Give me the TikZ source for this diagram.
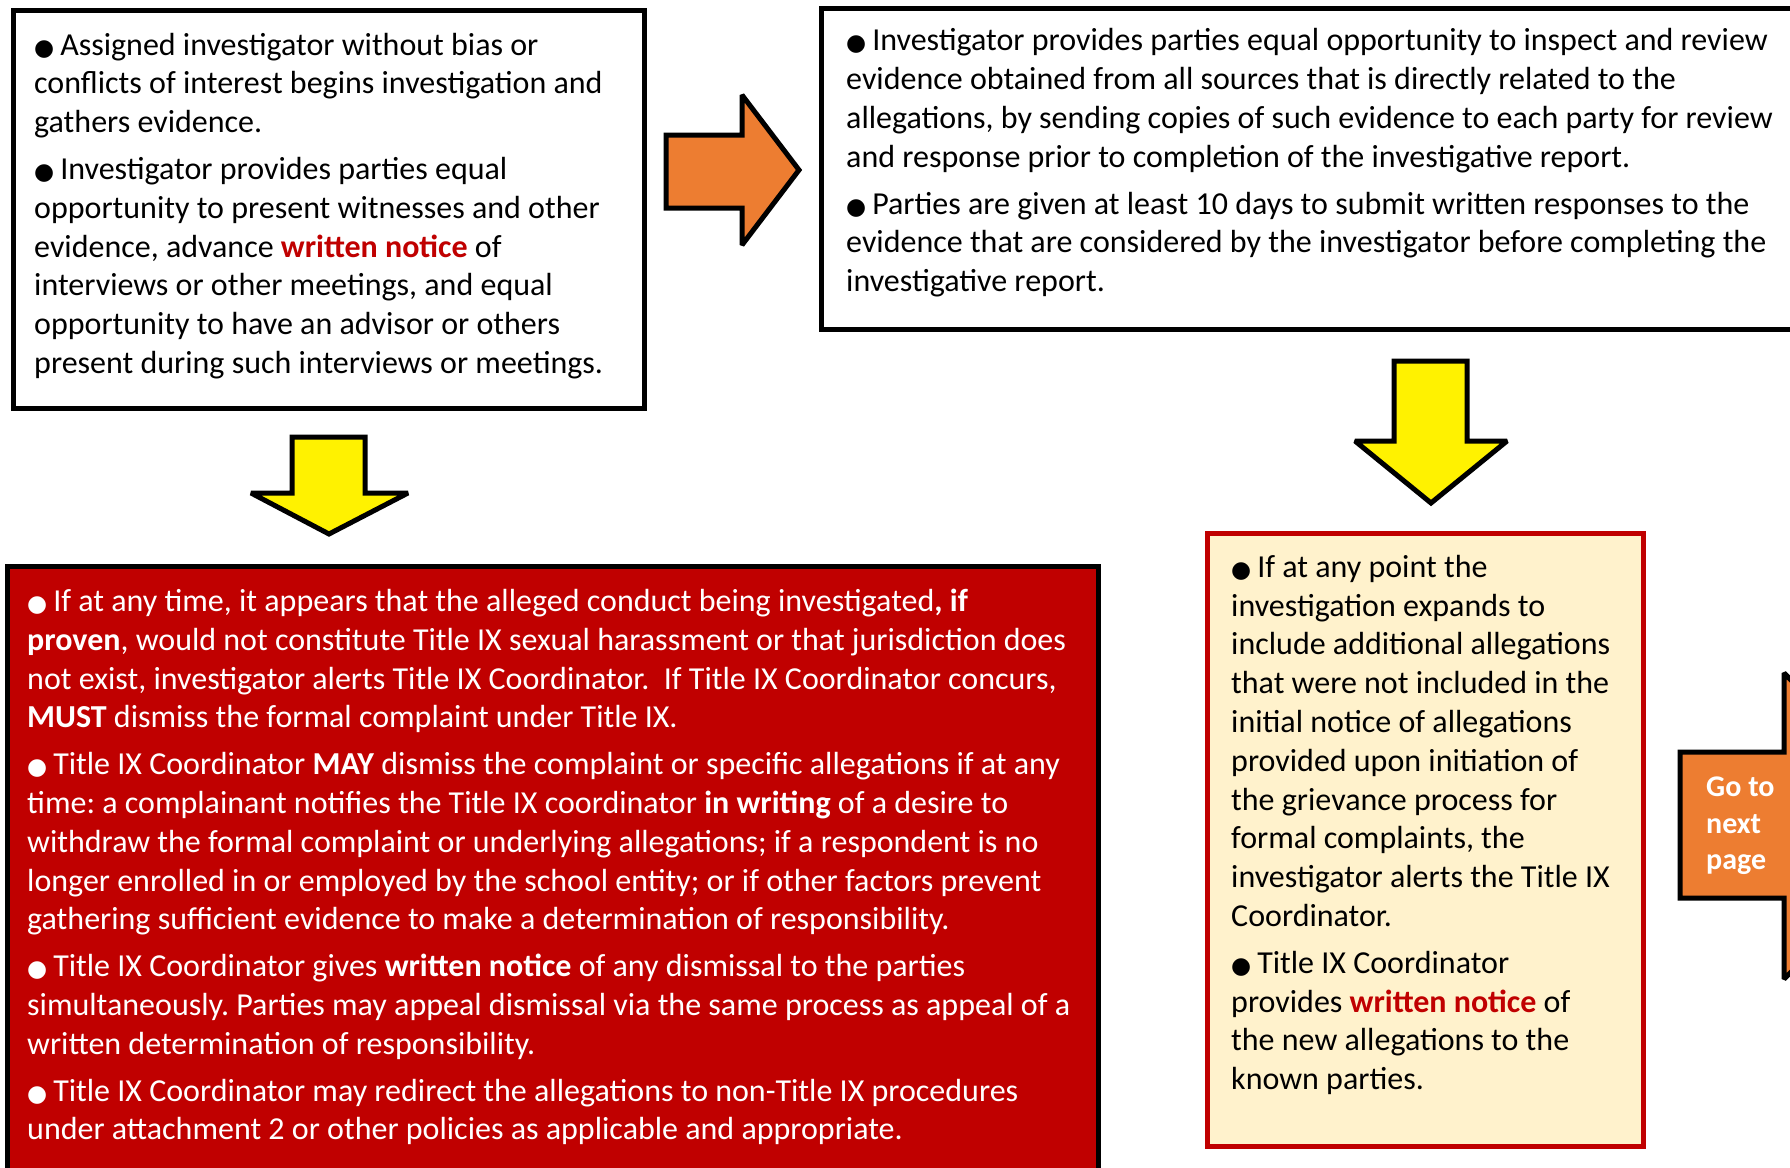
\documentclass[tikz,border=0pt]{standalone}
\usepackage{fontspec}
\setmainfont{Carlito}
\newfontfamily\dotfont{DejaVu Sans}
\definecolor{deepred}{HTML}{C00000}
\definecolor{flaporange}{HTML}{ED7D31}
\definecolor{creamfill}{HTML}{FFF2CC}
\newcommand{\bul}{{\dotfont\fontsize{23}{23}\selectfont ●}\kern6pt}
\newcommand{\rednote}{\textcolor{deepred}{\textbf{written notice}}}
\frenchspacing
\begin{document}
\begin{tikzpicture}[x=1pt,y=-1pt,line join=miter,miter limit=1.6,
    frame/.style={draw=black,line width=5pt,anchor=north west,inner sep=0pt},
    copy/.style={anchor=west,inner sep=0pt,align=left,font=\fontsize{32}{38.8}\selectfont},
    blockarrow/.style={draw=black,line width=5pt}]
    \useasboundingbox (0,0) rectangle (1790,1167);
    \clip (0,0) rectangle (1790,1167);
    % boxes
    \node[frame,fill=white,minimum width=631,minimum height=398] (boxA) at (11,8) {};
    \node[frame,fill=white,minimum width=990,minimum height=321] (boxB) at (819,6) {};
    \node[frame,fill=deepred,minimum width=1091,minimum height=640] (boxC) at (5,564) {};
    \node[frame,draw=deepred,fill=creamfill,minimum width=436,minimum height=613] (boxD) at (1205,531) {};
    % texts
    \node[copy] (textA) at (34,206) {\bul Assigned investigator without bias or\\
        conflicts of interest begins investigation and\\
        gathers evidence.\\[8pt]
        \bul Investigator provides parties equal\\
        opportunity to present witnesses and other\\
        evidence, advance \rednote{} of\\
        interviews or other meetings, and equal\\
        opportunity to have an advisor or others\\
        present during such interviews or meetings.};
    \node[copy] (textB) at (846,163) {\bul Investigator provides parties equal opportunity to inspect and review\\
        evidence obtained from all sources that is directly related to the\\
        allegations, by sending copies of such evidence to each party for review\\
        and response prior to completion of the investigative report.\\[8pt]
        \bul Parties are given at least 10 days to submit written responses to the\\
        evidence that are considered by the investigator before completing the\\
        investigative report.};
    \node[copy,text=white] (textC) at (27,867) {\bul If at any time, it appears that the alleged conduct being investigated\textbf{, if}\\
        \textbf{proven}, would not constitute Title IX sexual harassment or that jurisdiction does\\
        not exist, investigator alerts Title IX Coordinator.\ \ If Title IX Coordinator concurs,\\
        \textbf{MUST} dismiss the formal complaint under Title IX.\\[8pt]
        \bul Title IX Coordinator \textbf{MAY} dismiss the complaint or specific allegations if at any\\
        time: a complainant notifies the Title IX coordinator \textbf{in writing} of a desire to\\
        withdraw the formal complaint or underlying allegations; if a respondent is no\\
        longer enrolled in or employed by the school entity; or if other factors prevent\\
        gathering sufficient evidence to make a determination of responsibility.\\[8pt]
        \bul Title IX Coordinator gives \textbf{written notice} of any dismissal to the parties\\
        simultaneously. Parties may appeal dismissal via the same process as appeal of a\\
        written determination of responsibility.\\[8pt]
        \bul Title IX Coordinator may redirect the allegations to non-Title IX procedures\\
        under attachment 2 or other policies as applicable and appropriate.};
    \node[copy] (textD) at (1231,825) {\bul If at any point the\\
        investigation expands to\\
        include additional allegations\\
        that were not included in the\\
        initial notice of allegations\\
        provided upon initiation of\\
        the grievance process for\\
        formal complaints, the\\
        investigator alerts the Title IX\\
        Coordinator.\\[8pt]
        \bul Title IX Coordinator\\
        provides \rednote{} of\\
        the new allegations to the\\
        known parties.};
    % arrows
    \draw[blockarrow,fill=flaporange] (666,135) -- (742,135) -- (742,95) -- (799,170)
        -- (742,245) -- (742,208) -- (666,208) -- cycle;
    \draw[blockarrow,fill=yellow] (292,437) -- (365,437) -- (365,493) -- (408,493)
        -- (329,534) -- (251,493) -- (292,493) -- cycle;
    \draw[blockarrow,fill=yellow] (1394,361) -- (1467,361) -- (1467,441) -- (1507,441)
        -- (1431,503) -- (1355,441) -- (1394,441) -- cycle;
    \draw[blockarrow,fill=flaporange] (1680,752) -- (1784,752) -- (1784,673) -- (1937,826)
        -- (1784,979) -- (1784,898) -- (1680,898) -- cycle;
    \node[copy,text=white,font=\bfseries\fontsize{30}{36.5}\selectfont] (gonext) at (1706,826) {Go to\\next\\page};
\end{tikzpicture}
\end{document}
